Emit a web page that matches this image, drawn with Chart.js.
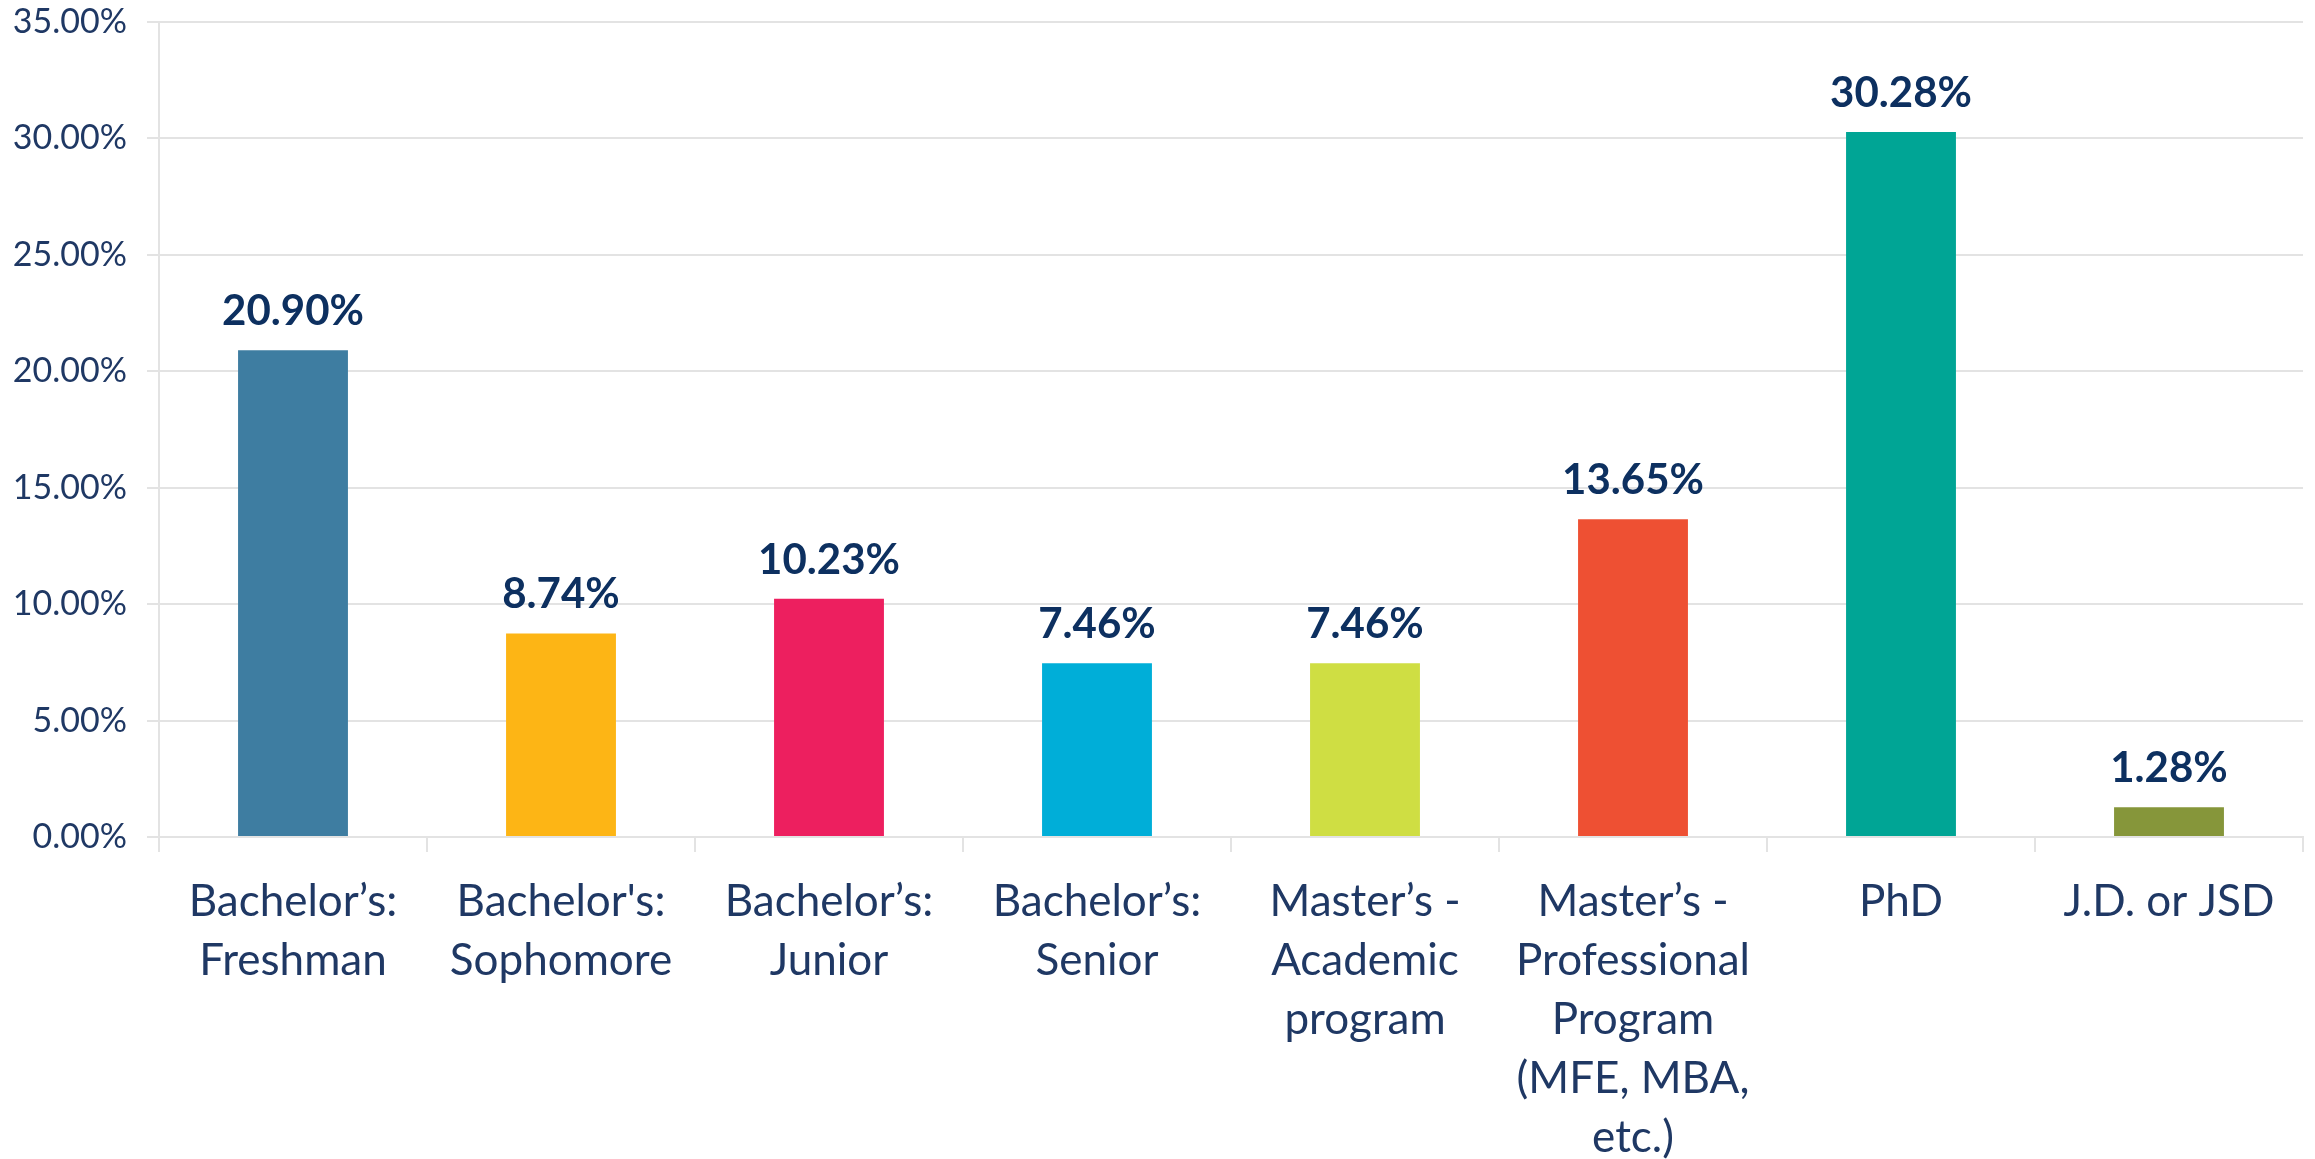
<!DOCTYPE html>
<html>
<head>
<meta charset="utf-8">
<script src="https://cdn.jsdelivr.net/npm/chart.js@4.4.1/dist/chart.umd.min.js"></script>
<style>
  html, body { margin: 0; padding: 0; background: #fff; }
  #wrap { width: 2315px; height: 1159px; }
</style>
</head>
<body>
<div id="wrap"><canvas id="levelChart"></canvas></div>
<script>
// Share of respondents by program level (%)
const levels = [
    ['Bachelor\u2019s:', 'Freshman'],
    ['Bachelor\'s:', 'Sophomore'],
    ['Bachelor\u2019s:', 'Junior'],
    ['Bachelor\u2019s:', 'Senior'],
    ['Master\u2019s -', 'Academic', 'program'],
    ['Master\u2019s -', 'Professional', 'Program', '(MFE, MBA,', 'etc.)'],
    ['PhD'],
    ['J.D. or JSD']
];
const shares = [20.90, 8.74, 10.23, 7.46, 7.46, 13.65, 30.28, 1.28];
const barColors = ['#3e7da1', '#fdb515', '#ed1f5f', '#00aed8', '#cfde43', '#ee5033', '#00a595', '#86963a'];
const yMax = 35;
const yStep = 5;

const navy = '#1f3864';
const gridGray = '#e3e3e3';

// draws the value above each bar
const valueLabels = {
    id: 'valueLabels',
    afterDatasetsDraw(chart) {
        const ctx = chart.ctx;
        const meta = chart.getDatasetMeta(0);
        ctx.save();
        ctx.font = 'bold 42px Lato';
        ctx.fillStyle = '#0d3060';
        ctx.textAlign = 'center';
        ctx.textBaseline = 'alphabetic';
        meta.data.forEach((bar, i) => {
            ctx.fillText(shares[i].toFixed(2) + '%', bar.x, bar.y - 25);
        });
        ctx.restore();
    }
};

new Chart(document.getElementById('levelChart'), {
    type: 'bar',
    data: {
        labels: levels,
        datasets: [{
            data: shares,
            backgroundColor: barColors,
            barPercentage: 0.41,
            categoryPercentage: 1
        }]
    },
    options: {
        responsive: true,
        maintainAspectRatio: false,
        animation: false,
        layout: { padding: { top: 0, right: 12, left: 0, bottom: 0 } },
        plugins: {
            legend: { display: false },
            tooltip: { enabled: false }
        },
        scales: {
            x: {
                grid: {
                    offset: true,
                    drawOnChartArea: false,
                    drawTicks: true,
                    tickLength: 15,
                    color: gridGray,
                    lineWidth: 2
                },
                border: { color: gridGray, width: 2 },
                ticks: {
                    color: navy,
                    font: { family: 'Lato', size: 44, lineHeight: 1.34 },
                    padding: 20,
                    maxRotation: 0,
                    autoSkip: false
                },
                afterFit: (scale) => { scale.height = 322; }
            },
            y: {
                min: 0,
                max: yMax,
                grid: {
                    color: gridGray,
                    lineWidth: 2,
                    tickLength: 12
                },
                border: { color: gridGray, width: 2 },
                ticks: {
                    stepSize: yStep,
                    color: navy,
                    font: { family: 'Lato', size: 34 },
                    padding: 20,
                    callback: (v) => v.toFixed(2) + '%'
                },
                afterFit: (scale) => {
                    scale.width = 159;
                    scale.paddingTop = 22;
                }
            }
        }
    },
    plugins: [valueLabels]
});
</script>
</body>
</html>
